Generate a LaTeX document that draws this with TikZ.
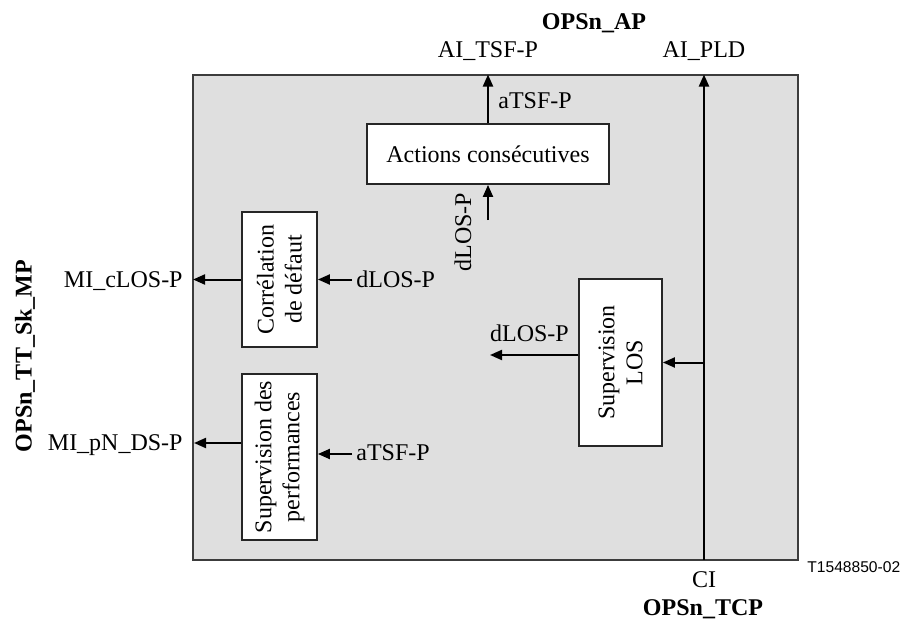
\documentclass[tikz,border=0pt]{standalone}
\usepackage{fontspec}
\setmainfont{Liberation Serif}
\newfontfamily\arialfont{Liberation Sans}
\usetikzlibrary{arrows.meta}
\definecolor{bg}{RGB}{223,223,223}
\definecolor{edge}{RGB}{60,60,60}
\tikzset{
  fbox/.style={draw=black!85, fill=white, line width=0.9pt, inner sep=0pt},
  lbl/.style={inner sep=0pt, font=\fontsize{12}{14}\selectfont},
  blbl/.style={inner sep=0pt, font=\fontsize{12}{14}\selectfont\bfseries},
  vtext/.style={rotate=90, align=center, inner sep=0pt, font=\fontsize{12}{14}\selectfont},
  arr/.style={line width=1pt, -{Triangle[length=6pt,width=5pt]}}
}
\begin{document}
\begin{tikzpicture}[x=0.5pt,y=-0.5pt]
\useasboundingbox (0,0) rectangle (902,621);
% main frame
\coordinate (mainNW) at (193,74.5);
\coordinate (mainSE) at (798,559.5);
\draw[line width=1pt, draw=edge, fill=bg] (mainNW) rectangle (mainSE);
% boxes
\node[fbox, minimum width=121pt, minimum height=30pt] (actions) at (488,154) {};
\node[lbl] (actionsT) at (actions.center) {Actions consécutives};
\node[fbox, minimum width=37.5pt, minimum height=67.5pt] (corr) at (279.5,279.5) {};
\node[vtext] (corrT) at (corr.center) {Corrélation\\de défaut};
\node[fbox, minimum width=37.5pt, minimum height=83pt] (perf) at (279.5,457) {};
\node[vtext] (perfT) at (perf.center) {Supervision des\\performances};
\node[fbox, minimum width=41.5pt, minimum height=83.5pt] (los) at (620.5,362.5) {};
\node[vtext] (losT) at (los.center) {Supervision\\LOS};
% outer labels
\node[blbl, anchor=base] (opsap) at (594,29) {OPSn\_AP};
\node[lbl, anchor=base] (aitsf) at (488,57) {AI\_TSF-P};
\node[lbl, anchor=base] (aipld) at (704,57) {AI\_PLD};
\node[lbl, anchor=base] (ci) at (704,587) {CI};
\node[blbl, anchor=base] (opstcp) at (703,615) {OPSn\_TCP};
\node[inner sep=0pt, anchor=base west, font=\arialfont\fontsize{7.8}{9}\selectfont] (tid) at (807,572) {T1548850-02};
\node[blbl, rotate=90] (opsmp) at (25,356) {OPSn\_TT\_Sk\_MP};
\node[lbl, anchor=base east] (micl) at (183,287) {MI\_cLOS-P};
\node[lbl, anchor=base east] (mipn) at (183,450) {MI\_pN\_DS-P};
% inner labels
\node[lbl, anchor=base west] (atsfA) at (498,108) {aTSF-P};
\node[lbl, anchor=base west] (dlosC) at (356,287) {dLOS-P};
\node[lbl, anchor=base west] (atsfP) at (356,460) {aTSF-P};
\node[lbl, anchor=base] (dlosL) at (529.5,342) {dLOS-P};
\node[vtext] (dlosV) at (463,232) {dLOS-P};
% coordinates
\coordinate (ciPt) at (704,559.5);
\coordinate (pldPt) at (704,74.5);
\coordinate (dlosIn) at (352,279.5);
\coordinate (pnEnd) at (194,443);
\coordinate (atsfIn) at (352,454);
\coordinate (dlosOut) at (490,355);
\coordinate (dlosA) at (488,220);
% connectors
\draw[arr] (corr.west) -- (corr.west -| mainNW);
\draw[arr] (dlosIn) -- (corr.east);
\draw[arr] (perf.west |- pnEnd) -- (pnEnd);
\draw[arr] (atsfIn) -- (atsfIn -| perf.east);
\draw[arr] (los.west |- dlosOut) -- (dlosOut);
\draw[arr] (ciPt) -- (pldPt);
\draw[arr] (los.east -| ciPt) -- (los.east);
\draw[arr] (actions.north) -- (actions.north |- pldPt);
\draw[arr] (dlosA) -- (actions.south);
\end{tikzpicture}
\end{document}
